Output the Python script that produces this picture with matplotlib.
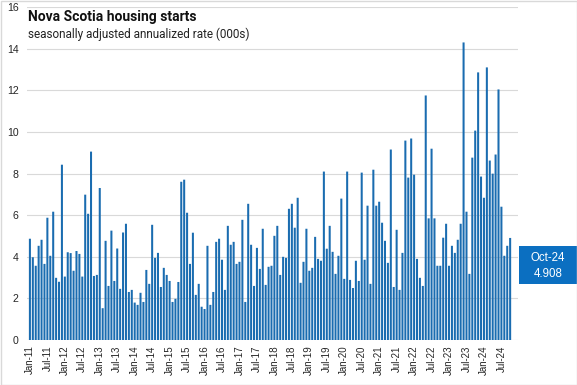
import matplotlib
matplotlib.use("Agg")
import matplotlib.pyplot as plt
from matplotlib.patches import Rectangle
import pandas as pd

# monthly starts, seasonally adjusted annualized rate (000s)
y2011 = [4.87, 3.98, 3.57, 4.53, 4.82, 3.66, 5.88, 4.05, 6.17, 2.99, 2.80, 8.43]
y2012 = [3.05, 4.22, 4.18, 3.33, 4.28, 4.14, 3.05, 6.99, 6.07, 9.06, 3.08, 3.13]
y2013 = [7.31, 1.53, 4.77, 2.60, 5.26, 2.84, 4.40, 2.46, 5.17, 5.59, 2.31, 2.41]
y2014 = [1.80, 1.69, 2.27, 1.83, 3.37, 2.70, 5.54, 3.95, 4.19, 2.55, 3.47, 3.13]
y2015 = [2.84, 1.83, 1.98, 2.79, 7.61, 7.71, 6.12, 3.66, 5.16, 2.17, 2.70, 1.60]
y2016 = [1.49, 4.53, 1.69, 2.31, 4.72, 4.87, 3.86, 2.41, 5.49, 4.58, 4.72, 3.66]
y2017 = [3.76, 5.78, 1.83, 6.55, 4.58, 2.60, 4.43, 3.42, 5.35, 2.65, 3.52, 3.57]
y2018 = [5.01, 5.49, 3.13, 4.00, 3.95, 6.31, 6.55, 5.40, 6.84, 2.75, 3.76, 5.35]
y2019 = [3.33, 3.47, 4.96, 3.90, 3.81, 8.10, 4.39, 5.49, 4.24, 3.18, 4.05, 6.80]
y2020 = [2.94, 8.10, 2.89, 2.50, 3.81, 2.84, 8.05, 3.86, 6.46, 2.70, 8.19, 6.46]
y2021 = [6.65, 5.64, 4.77, 3.71, 9.16, 2.55, 5.30, 2.41, 4.19, 9.59, 7.81, 9.69]
y2022 = [7.95, 3.90, 2.99, 2.60, 11.76, 5.85, 9.20, 5.85, 3.57, 3.57, 4.92, 5.59]
y2023 = [3.57, 4.53, 4.19, 4.82, 5.59, 14.31, 6.17, 3.18, 8.77, 10.07, 12.87, 7.86]
y2024 = [6.84, 13.11, 8.63, 8.00, 8.92, 12.05, 6.41, 4.05, 4.53, 4.908]

starts = (y2011 + y2012 + y2013 + y2014 + y2015 + y2016 + y2017
          + y2018 + y2019 + y2020 + y2021 + y2022 + y2023 + y2024)
months = pd.date_range("2011-01-01", periods=len(starts), freq="MS").strftime("%b-%y")
yticks = [0, 2, 4, 6, 8, 10, 12, 14, 16]

bar_color = "#1a6cb0"
box_color = "#0b6fc1"

fig = plt.figure(figsize=(5.77, 3.85), dpi=100)
ax = fig.add_axes([27 / 577, 45 / 385, 491 / 577, 332.7 / 385])

x = list(range(len(starts)))
bars = ax.bar(x, starts, width=0.7, color=bar_color, linewidth=0, zorder=2)
for b in bars:
    b.set_snap(False)

ax.set_xlim(-1.0, len(starts) + 1.7)
ax.set_ylim(0, 16)
ax.set_yticks(yticks)
ax.set_yticklabels([str(v) for v in yticks], fontsize=7.6, family="Liberation Sans", color="#262626")
ax.grid(axis="y", color="#d9d9d9", linewidth=0.8, zorder=0)

ax.set_xticks(x[::6])
ax.set_xticklabels(months[::6], rotation=90, fontsize=7.0, family="Liberation Sans", color="#262626")
ax.tick_params(axis="both", length=0)
ax.tick_params(axis="x", pad=4)
ax.tick_params(axis="y", pad=6)
for side in ["top", "right", "left", "bottom"]:
    ax.spines[side].set_visible(False)

fig.text(28 / 577, 1 - 21 / 385, "Nova Scotia housing starts", fontsize=10.0,
         fontweight="bold", family="Roboto", color="#111111", va="baseline")
fig.text(28 / 577, 1 - 38 / 385, "seasonally adjusted annualized rate (000s)", fontsize=8.5,
         family="Roboto", color="#222222", va="baseline")

# last value callout
fig.patches.append(Rectangle((519 / 577, 1 - 284 / 385), 60 / 577, 38 / 385,
                             transform=fig.transFigure, facecolor=box_color,
                             edgecolor="none"))
fig.text(548 / 577, 1 - 258 / 385, months[-1], fontsize=8.3, family="Liberation Sans",
         color="white", ha="center", va="center")
fig.text(548 / 577, 1 - 274 / 385, f"{starts[-1]:.3f}", fontsize=8.3, family="Liberation Sans",
         color="white", ha="center", va="center")

# chart frame
fig.patches.append(Rectangle((0.5 / 577, 0.5 / 385), 576 / 577, 384 / 385,
                             transform=fig.transFigure, facecolor="none",
                             edgecolor="#d9d9d9", linewidth=1))

fig.savefig("out.png", dpi=100)
